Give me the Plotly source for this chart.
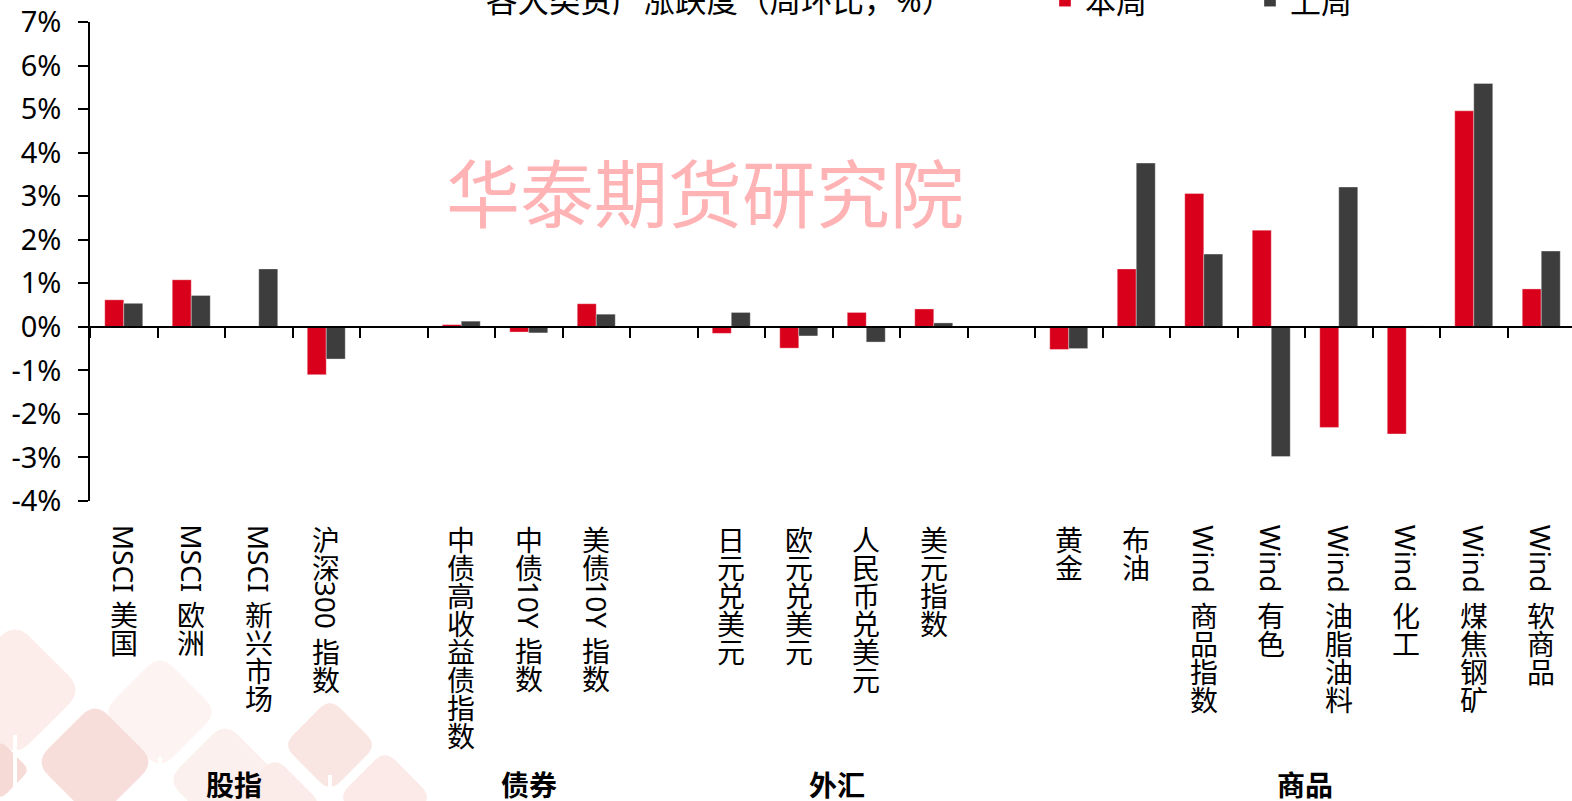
import plotly.graph_objects as go

# ---------------- data ----------------
group_names = ["股指", "债券", "外汇", "商品"]

equity_labels = ["MSCI 美国", "MSCI 欧洲", "MSCI 新兴市场", "沪深300 指数"]
equity_this = [0.62, 1.08, 0.01, -1.10]
equity_last = [0.54, 0.72, 1.33, -0.74]

bond_labels = ["中债高收益债指数", "中债10Y 指数", "美债10Y 指数"]
bond_this = [0.05, -0.12, 0.53]
bond_last = [0.13, -0.14, 0.29]

fx_labels = ["日元兑美元", "欧元兑美元", "人民币兑美元", "美元指数"]
fx_this = [-0.15, -0.49, 0.33, 0.41]
fx_last = [0.33, -0.21, -0.35, 0.09]

cmd_labels = ["黄金", "布油", "Wind 商品指数", "Wind 有色", "Wind 油脂油料",
              "Wind 化工", "Wind 煤焦钢矿", "Wind 软商品"]
cmd_this = [-0.52, 1.33, 3.06, 2.22, -2.31, -2.46, 4.96, 0.87]
cmd_last = [-0.50, 3.76, 1.67, -2.98, 3.21, 0.02, 5.59, 1.74]

y_tick_vals = [-4, -3, -2, -1, 0, 1, 2, 3, 4, 5, 6, 7]
y_tick_text = ["-4%", "-3%", "-2%", "-1%", "0%", "1%", "2%", "3%", "4%", "5%", "6%", "7%"]

series_names = ["本周", "上周"]
title_text = "各大类资产涨跌度（周环比，%）"
watermark_text = "华泰期货研究院"

# ---------------- layout constants ----------------
W, H = 1572, 801
ML, MT, MB, MR = 90, 22, 300, 0
PW = W - ML - MR
PH = H - MT - MB
SLOT = 67.5
RED = "#D9001B"
GRAY = "#3D3D3D"
FONT = "Noto Sans, Noto Sans CJK SC, sans-serif"

groups = [
    (equity_labels, equity_this, equity_last),
    (bond_labels, bond_this, bond_last),
    (fx_labels, fx_this, fx_last),
    (cmd_labels, cmd_this, cmd_last),
]
group_label_nudge = [0.13, 0.0, 0.07, 0.0]  # small horizontal nudges (slot units)

cats, this_vals, last_vals, group_idx = [], [], [], []
for gi, (labs, tv, lv) in enumerate(groups):
    if gi > 0:
        cats.append(" " * gi)
        this_vals.append(None)
        last_vals.append(None)
    idxs = []
    for lab, a, b in zip(labs, tv, lv):
        idxs.append(len(cats))
        cats.append(lab)
        this_vals.append(a)
        last_vals.append(b)
    group_idx.append(idxs)

fig = go.Figure()
fig.add_trace(go.Bar(x=cats, y=this_vals, name=series_names[0],
                     marker=dict(color=RED, line=dict(color="rgba(255,255,255,0.35)", width=1))))
fig.add_trace(go.Bar(x=cats, y=last_vals, name=series_names[1],
                     marker=dict(color=GRAY, line=dict(color="rgba(255,255,255,0.35)", width=1))))

ymin, ymax = -4, 7
zero_pos = (0 - ymin) / (ymax - ymin)

fig.update_layout(
    width=W, height=H,
    margin=dict(l=ML, r=MR, t=MT, b=MB, autoexpand=False),
    paper_bgcolor="white", plot_bgcolor="white",
    barmode="group", bargap=0.437, bargroupgap=0,
    font=dict(family=FONT, color="black", size=28),
    showlegend=True,
    legend=dict(orientation="h", x=(1045 - ML) / PW, xanchor="left",
                y=1 + (MT - 1) / PH, yanchor="middle",
                font=dict(size=31, family=FONT), entrywidth=160,
                bgcolor="rgba(0,0,0,0)"),
    xaxis=dict(type="category", categoryorder="array", categoryarray=cats,
               range=[-0.5, -0.5 + PW / SLOT],
               anchor="free", position=zero_pos,
               showline=True, linecolor="black", linewidth=1.5,
               ticks="outside", tickson="boundaries", ticklen=10, tickwidth=1.5,
               tickcolor="black", showticklabels=False, showgrid=False, zeroline=False),
    yaxis=dict(range=[ymin, ymax], tickvals=y_tick_vals, ticktext=y_tick_text,
               showline=True, linecolor="black", linewidth=1.5,
               ticks="outside", ticklen=10, tickwidth=1.5, tickcolor="black",
               tickfont=dict(size=29, family=FONT),
               showgrid=False, zeroline=False, ticklabelstandoff=11),
)

annotations = []

# title (cropped at the top like the reference)
annotations.append(dict(text=title_text, xref="paper", yref="paper",
                        x=(719 - ML) / PW, y=1, yanchor="middle", xanchor="center",
                        yshift=MT + 1, showarrow=False,
                        font=dict(size=31.5, family=FONT, color="black")))

# watermark
annotations.append(dict(text=watermark_text, xref="paper", yref="paper",
                        x=(705 - ML) / PW, y=((MT + PH) - 189) / PH,
                        xanchor="center", yanchor="middle", showarrow=False,
                        font=dict(size=74, family="Noto Sans CJK SC", color="#FFB3B5")))

# vertical category labels
LAT_W = {"M": 0.907, "S": 0.548, "C": 0.632, "I": 0.301, "W": 0.928, "i": 0.258,
         "n": 0.618, "d": 0.623, "Y": 0.531}
FS = 28


def latin_width(s):
    return sum(LAT_W.get(c, 0.572) for c in s) * FS


for i, lab in enumerate(cats):
    if not lab.strip():
        continue
    cursor = 24
    j = 0
    while j < len(lab):
        c = lab[j]
        if c == " ":
            cursor += 8
            j += 1
        elif ord(c) < 128:
            k = j
            while k < len(lab) and ord(lab[k]) < 128 and lab[k] != " ":
                k += 1
            run = lab[j:k]
            w = latin_width(run)
            annotations.append(dict(text=run, xref="x", yref="paper", x=i, y=0,
                                    yshift=-(cursor + w / 2), xanchor="center",
                                    yanchor="middle", textangle=90, showarrow=False,
                                    font=dict(size=FS, family=FONT, color="black")))
            cursor += w
            j = k
        else:
            annotations.append(dict(text=c, xref="x", yref="paper", x=i, y=0,
                                    yshift=-(cursor + FS / 2), xanchor="center",
                                    yanchor="middle", showarrow=False,
                                    font=dict(size=FS, family="Noto Sans CJK SC", color="black")))
            cursor += FS
            j += 1

# group labels
for name, idxs, nud in zip(group_names, group_idx, group_label_nudge):
    xc = (idxs[0] + idxs[-1]) / 2 + nud
    annotations.append(dict(text="<b>" + name + "</b>", xref="x", yref="paper", x=xc, y=0,
                            yshift=-(784 - (MT + PH)), xanchor="center", yanchor="middle",
                            showarrow=False,
                            font=dict(size=28, family="Noto Sans CJK SC", color="black")))

fig.update_layout(annotations=annotations)


# faint logo in the lower-left corner (decorative)
def px2paper(px, py):
    return (px - ML) / PW, (MT + PH - py) / PH


def diamond(cx, cy, r, color):
    pts = [(cx, cy - r), (cx + r, cy), (cx, cy + r), (cx - r, cy)]
    rr = 0.22
    path = ""
    for k in range(4):
        p0 = pts[k - 1]
        p1 = pts[k]
        p2 = pts[(k + 1) % 4]
        a = (p1[0] + (p0[0] - p1[0]) * rr, p1[1] + (p0[1] - p1[1]) * rr)
        b = (p1[0] + (p2[0] - p1[0]) * rr, p1[1] + (p2[1] - p1[1]) * rr)
        ax, ay = px2paper(*a)
        bx, by = px2paper(*b)
        qx, qy = px2paper(*p1)
        path += ("M" if k == 0 else "L") + f"{ax},{ay} Q{qx},{qy} {bx},{by} "
    path += "Z"
    return dict(type="path", xref="paper", yref="paper", path=path,
                fillcolor=color, line=dict(width=0), layer="below")


logo = [(15, 690, 68, "#FCECEA"), (160, 712, 58, "#FDF3F2"), (95, 762, 60, "#F7DEDA"),
        (225, 780, 58, "#FCF0EE"), (330, 745, 47, "#F9E5E2"), (275, 805, 48, "#FBEBE9"),
        (385, 797, 47, "#FBEAE8"), (0, 770, 30, "#F6DAD6")]
shapes = [diamond(*d) for d in logo]
for sx, sy in [(15, 735), (160, 757), (330, 775)]:
    x0, y0 = px2paper(sx - 2, sy)
    x1, y1 = px2paper(sx + 2, 801)
    shapes.append(dict(type="rect", xref="paper", yref="paper", x0=x0, x1=x1, y0=y1, y1=y0,
                       fillcolor="white", line=dict(width=0), layer="below"))
fig.update_layout(shapes=shapes)

fig.write_html("out.html")
